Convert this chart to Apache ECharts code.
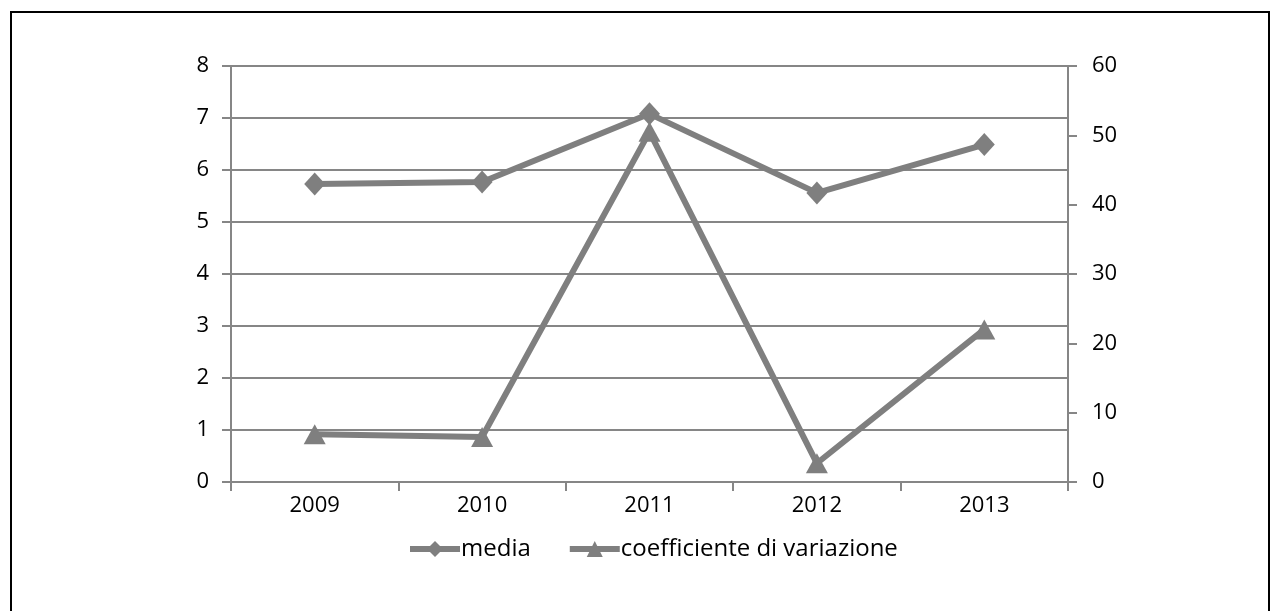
<!DOCTYPE html>
<html>
<head>
<meta charset="utf-8">
<script src="https://cdn.jsdelivr.net/npm/echarts@6/dist/echarts.min.js"></script>
<style>
  html, body { margin: 0; padding: 0; background: #fff; }
  #frame {
    position: absolute; left: 10px; top: 11px; width: 1260px; height: 620px;
    border: 2px solid #000; box-sizing: border-box; border-bottom: none;
  }
  #chart { position: absolute; left: 0; top: 0; width: 1283px; height: 611px; }
</style>
</head>
<body>
<div id="frame"></div>
<div id="chart"></div>
<script>
// Years on the category axis
const years = ['2009', '2010', '2011', '2012', '2013'];
// Mean (left axis)
const media = [5.73, 5.77, 7.08, 5.56, 6.49];
// Coefficient of variation (right axis)
const coefficiente = [6.9, 6.5, 50.5, 2.7, 22.0];

const grey = '#7f7f7f';
const gridGrey = '#868686';
const font = '"Open Sans", "DejaVu Sans", sans-serif';
const fs = 22;

const chart = echarts.init(document.getElementById('chart'), null, { renderer: 'canvas' });
chart.setOption({
  animation: false,
  grid: { left: 231, right: 215, top: 66, height: 416, containLabel: false },
  legend: {
    bottom: 45,
    left: 402,
    itemWidth: 50,
    itemHeight: 20,
    itemGap: 36,
    lineStyle: { width: 6 },
    textStyle: { fontFamily: font, fontSize: 24, color: '#000', padding: [0, 0, 0, -4] },
    data: ['media', 'coefficiente di variazione']
  },
  xAxis: {
    type: 'category',
    data: years,
    boundaryGap: true,
    axisLine: { lineStyle: { color: gridGrey, width: 2 } },
    axisTick: { show: true, length: 9, lineStyle: { color: gridGrey, width: 2 } },
    axisLabel: { fontFamily: font, fontSize: fs, color: '#000', margin: 13 }
  },
  yAxis: [
    {
      type: 'value', min: 0, max: 8, interval: 1,
      axisLine: { show: true, lineStyle: { color: gridGrey, width: 2 } },
      axisTick: { show: true, length: 9, lineStyle: { color: gridGrey, width: 2 } },
      axisLabel: { fontFamily: font, fontSize: fs, color: '#000', margin: 22 },
      splitLine: { show: true, lineStyle: { color: gridGrey, width: 2 } }
    },
    {
      type: 'value', min: 0, max: 60, interval: 10, position: 'right',
      axisLine: { show: true, lineStyle: { color: gridGrey, width: 2 } },
      axisTick: { show: true, length: 9, lineStyle: { color: gridGrey, width: 2 } },
      axisLabel: { fontFamily: font, fontSize: fs, color: '#000', margin: 24 },
      splitLine: { show: false }
    }
  ],
  series: [
    {
      name: 'media', type: 'line', yAxisIndex: 0, data: media,
      symbol: 'diamond', symbolSize: [21, 23],
      lineStyle: { color: grey, width: 6 },
      itemStyle: { color: grey }
    },
    {
      name: 'coefficiente di variazione', type: 'line', yAxisIndex: 1, data: coefficiente,
      symbol: 'triangle', symbolSize: [22, 20],
      lineStyle: { color: grey, width: 6 },
      itemStyle: { color: grey }
    }
  ]
});
</script>
</body>
</html>
